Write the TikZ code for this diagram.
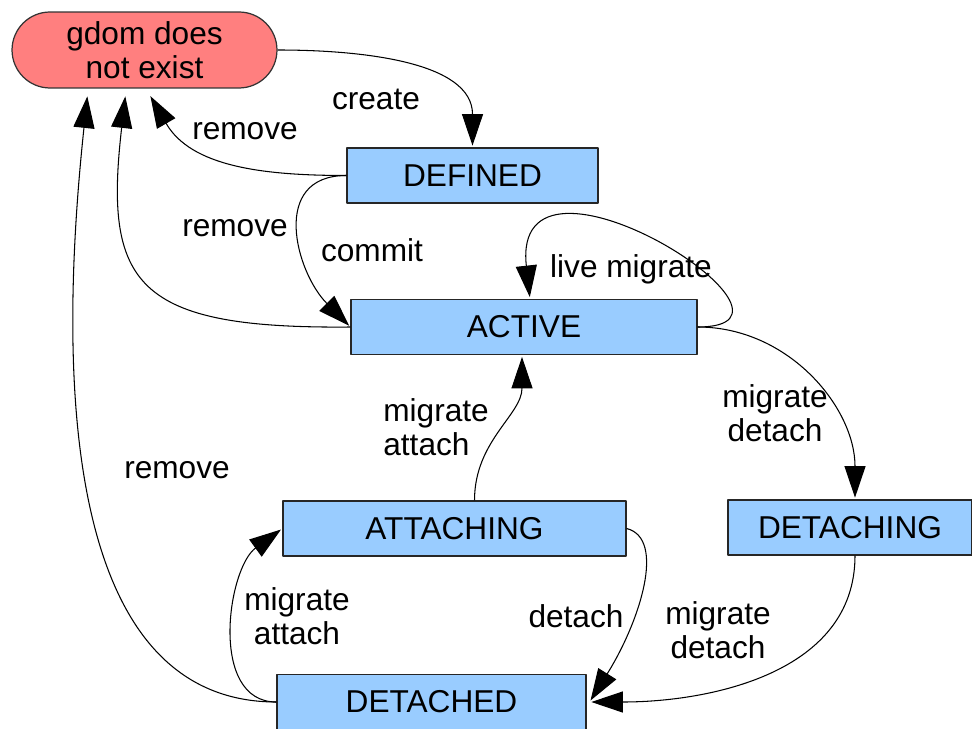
\documentclass[tikz,border=0pt]{standalone}
\usepackage{fontspec}
\setmainfont{Liberation Sans}
\usetikzlibrary{arrows.meta,calc,shapes.misc}
\definecolor{stateblue}{HTML}{99CCFF}
\definecolor{gonered}{HTML}{FF7F7F}
\begin{document}
\begin{tikzpicture}[x=0.02cm, y=0.02cm, font=\fontsize{18}{19.5}\selectfont, line join=round, >={Triangle[length=18pt,width=12pt]},
	state/.style={draw=black!85, fill=stateblue, line width=0.7pt, minimum height=1.1cm, inner sep=0pt},
	gone/.style={rounded rectangle, draw=black!80, fill=gonered, line width=0.7pt, minimum width=5.3cm, minimum height=1.52cm, align=center, inner sep=0pt},
	trans/.style={->, line width=0.6pt, shorten >=1pt},
	lbl/.style={align=center, inner sep=0pt}]
	\useasboundingbox (0,0) rectangle (972,-729);
	\node[gone] (gdom) at (144.5,-50) {gdom does\\not exist};
	\node[state, minimum width=5.02cm] (defined) at (472.5,-175.5) {DEFINED};
	\node[state, minimum width=6.92cm] (active) at (524,-327) {ACTIVE};
	\node[state, minimum width=6.86cm] (attaching) at (454.5,-528.5) {ATTACHING};
	\node[state, minimum width=4.88cm] (detaching) at (850,-527.5) {DETACHING};
	\node[state, minimum width=6.18cm] (detached) at (431.5,-702) {DETACHED};
	\draw[trans] (gdom.east) to[out=0,in=90] (defined.north);
	\draw[trans] (defined.west) to[out=180,in=-60] ($(gdom.south)+(5,-6)$);
	\draw[trans] (defined.west) to[out=180,in=135,looseness=1.3] (active.west);
	\draw[trans] (active.west) .. controls +(-215,-2) and +(-22,-190) .. ($(gdom.south)+(-19,-6)$);
	\draw[trans] (detached.west) .. controls +(-187,0) and +(-38,-357) .. ($(gdom.south)+(-57,-6)$);
	\draw[trans] (active.east) .. controls +(140,0) and +(-20,180) .. ($(active.north)+(6,0)$);
	\draw[trans] (active.east) to[out=0,in=90] ($(detaching.north)+(5,0)$);
	\draw[trans] ($(attaching.north)+(20,0)$) to[out=90,in=-90] ($(active.south)+(-2,0)$);
	\draw[trans] (attaching.east) .. controls +(40,-10) and +(50,80) .. ($(detached.east)+(3,0)$);
	\draw[trans] ($(detaching.south)+(5,0)$) to[out=-90,in=0] ($(detached.east)+(3,0)$);
	\draw[trans] (detached.west) to[out=180,in=216] (attaching.west);
	\node[lbl] (lcreate) at (376,-99) {create};
	\node[lbl] (lremove1) at (245,-131) {remove};
	\node[lbl] (lremove2) at (235,-228) {remove};
	\node[lbl] (lcommit) at (372,-250) {commit};
	\node[lbl] (llive) at (631,-269) {live migrate};
	\node[lbl] (lmigdet1) at (775,-413) {migrate\\detach};
	\node[lbl, align=left, anchor=west] (lmigatt1) at (383,-427) {migrate\\attach};
	\node[lbl] (lremove3) at (177,-470) {remove};
	\node[lbl] (lmigatt2) at (297,-616) {migrate\\attach};
	\node[lbl] (ldetach) at (576,-616) {detach};
	\node[lbl] (lmigdet2) at (718,-630) {migrate\\detach};
\end{tikzpicture}
\end{document}
